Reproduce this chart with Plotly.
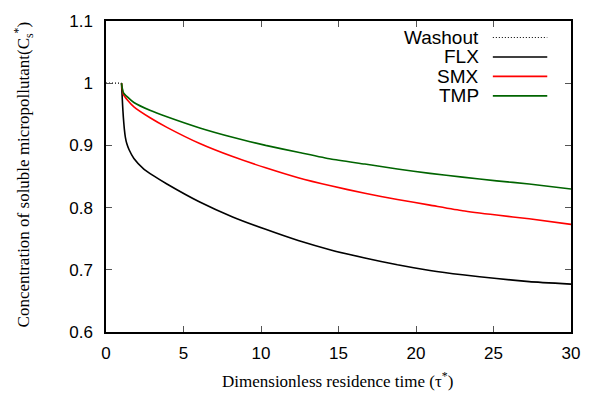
import plotly.graph_objects as go

# ---- data ----
washout_x = [0, 1]
washout_y = [1.0, 1.0]

flx_x = [1.0, 1.03, 1.07, 1.12, 1.18, 1.25, 1.34, 1.49, 1.8, 2.44, 3.08, 3.93, 6.05, 8.17, 10.3, 12.4, 14.5, 16.7, 18.8, 20.9, 23.0, 25.2, 27.3, 30.0]
flx_y = [1.0, 0.985, 0.965, 0.945, 0.927, 0.913, 0.903, 0.893, 0.879, 0.862, 0.851, 0.838, 0.809, 0.785, 0.765, 0.747, 0.732, 0.719, 0.708, 0.699, 0.692, 0.686, 0.681, 0.677]

smx_x = [1.0, 1.05, 1.12, 1.38, 1.8, 2.87, 3.93, 6.05, 8.17, 10.3, 12.4, 14.5, 16.7, 18.8, 20.9, 23.0, 25.2, 27.3, 30.0]
smx_y = [1.0, 0.99, 0.982, 0.973, 0.962, 0.944, 0.929, 0.903, 0.882, 0.864, 0.848, 0.835, 0.823, 0.813, 0.804, 0.795, 0.788, 0.782, 0.773]

tmp_x = [1.0, 1.05, 1.12, 1.38, 1.8, 2.87, 3.93, 6.05, 8.17, 10.3, 12.4, 14.5, 16.7, 18.8, 20.9, 23.0, 25.2, 27.3, 30.0]
tmp_y = [1.0, 0.992, 0.985, 0.978, 0.969, 0.956, 0.946, 0.928, 0.913, 0.900, 0.889, 0.878, 0.870, 0.862, 0.855, 0.849, 0.843, 0.838, 0.830]

series_names = ["Washout", "FLX", "SMX", "TMP"]
series_colors = ["#000000", "#000000", "#ff0000", "#006400"]
series_dash = ["dot", "solid", "solid", "solid"]

x_ticks = [0, 5, 10, 15, 20, 25, 30]
y_ticks = [0.6, 0.7, 0.8, 0.9, 1.0, 1.1]
y_ticktext = ["0.6", "0.7", "0.8", "0.9", "1", "1.1"]

fig = go.Figure()
data = [(washout_x, washout_y), (flx_x, flx_y), (smx_x, smx_y), (tmp_x, tmp_y)]
for (xs, ys), name, col, dash in zip(data, series_names, series_colors, series_dash):
    fig.add_trace(go.Scatter(x=xs, y=ys, mode="lines", name=name,
                             line=dict(color=col, width=1.6 if dash == "solid" else 1.2,
                                       dash="1px,2px" if dash == "dot" else dash,
                                       shape="spline", smoothing=0.5),
                             showlegend=False))

W, H = 592, 401
ml, mr, mt, mb = 106, 16, 12, 69
pw, ph = W - ml - mr, H - mt - mb

def px(xpix):
    return (xpix - ml) / pw

def py(ypix):
    return 1 - (ypix - mt) / ph

# manual gnuplot-style legend (text left, sample right)
rows = [29, 49, 69, 89]
for name, col, dash, yr in zip(series_names, series_colors, series_dash, rows):
    fig.add_annotation(x=px(485), y=py(yr), xref="paper", yref="paper",
                       text=name, showarrow=False, xanchor="right", yanchor="middle",
                       font=dict(family="Liberation Sans", size=19, color="black"))
    fig.add_shape(type="line", xref="paper", yref="paper",
                  x0=px(497), x1=px(552), y0=py(yr), y1=py(yr),
                  line=dict(color=col, width=1.6 if dash == "solid" else 1.2,
                            dash="1px,2px" if dash == "dot" else dash))

axis_common = dict(showgrid=False, zeroline=False, showline=True, linecolor="black",
                   linewidth=1.5, mirror="ticks", ticks="inside", ticklen=6,
                   tickcolor="#555555", tickwidth=1,
                   tickfont=dict(family="Liberation Sans", size=17, color="black"))

fig.update_xaxes(range=[0, 30], tickvals=x_ticks, ticklabelstandoff=5, **axis_common)
fig.update_yaxes(range=[0.6, 1.1], tickvals=y_ticks, ticktext=y_ticktext,
                 ticklabelstandoff=8, **axis_common)

fig.add_annotation(x=px(340), y=py(381), xref="paper", yref="paper",
                   text="Dimensionless residence time (τ<sup>*</sup>)", showarrow=False,
                   xanchor="center", yanchor="middle",
                   font=dict(family="Liberation Serif", size=17, color="black"))
fig.add_annotation(x=px(23), y=py(170), xref="paper", yref="paper",
                   text="Concentration of soluble micropollutant(C<sub>s</sub><sup>*</sup>)",
                   showarrow=False, textangle=-90, xanchor="center", yanchor="middle",
                   font=dict(family="Liberation Serif", size=17, color="black"))

fig.update_layout(width=W, height=H, margin=dict(l=ml, r=mr, t=mt, b=mb),
                  plot_bgcolor="white", paper_bgcolor="white", showlegend=False)

fig.write_html("out.html")
